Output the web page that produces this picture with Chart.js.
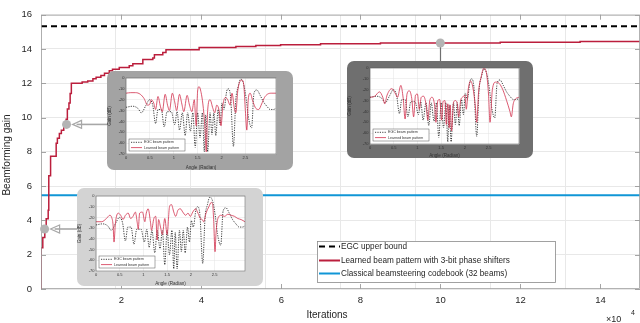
<!DOCTYPE html>
<html>
<head>
<meta charset="utf-8">
<script src="https://cdn.jsdelivr.net/npm/chart.js@4.4.0/dist/chart.umd.min.js"></script>
<style>
html, body { margin: 0; padding: 0; background: #fff; }
#wrap { position: relative; width: 640px; height: 323px; overflow: hidden; }
#main { position: absolute; left: 0; top: 0; }
.inset { position: absolute; border-radius: 7px; }
.inset canvas { position: absolute; left: 0; top: 0; }
</style>
</head>
<body>
<div id="wrap">
  <canvas id="main" width="640" height="323"></canvas>
  <div class="inset" id="box1"><canvas id="ins1" width="186" height="99"></canvas></div>
  <div class="inset" id="box2"><canvas id="ins2" width="186" height="97"></canvas></div>
  <div class="inset" id="box3"><canvas id="ins3" width="186" height="98"></canvas></div>
</div>
<script>
// main curve: iterations where the learned gain steps up, and the gain after each step
var iterations = [0, 50, 450, 950, 1300, 1800, 1950, 2400, 3800, 4100, 4600, 5100, 5700, 6300, 6600, 7000, 7300, 7600,
  10300, 11700, 13000, 13800, 15000, 15900, 17100, 17900, 19600, 22100, 23000, 25500, 28000, 28400, 30500, 31300,
  39600, 48800, 53800, 60000, 70000, 85000, 115000, 135000, 150000];
var learnedGain = [0, 2.4, 3.0, 3.5, 4.1, 4.6, 6.6, 7.75, 8.5, 8.8, 9.07, 9.26, 9.44, 9.9, 10.5, 10.85, 11.4, 12.0,
  12.07, 12.13, 12.26, 12.35, 12.45, 12.58, 12.73, 12.82, 12.92, 13.02, 13.14, 13.39, 13.48, 13.67, 13.8, 13.95,
  14.08, 14.15, 14.2, 14.25, 14.3, 14.35, 14.4, 14.43, 14.45];
var egcBound = 15.33;
var beamsteeringGain = 5.47;
var xRange = [0, 150000];
var xTickLabels = ['2', '4', '6', '8', '10', '12', '14'];
var xTickValues = [20000, 40000, 60000, 80000, 100000, 120000, 140000];

// snapshots shown in the insets (order: inset 1, 2, 3)
var markerIterations = [6400, 100000, 900];
var markerGain = [9.6, 14.35, 3.5];

// beam patterns (angle in radian, gain in dB)
var egcAngle = [0, 0.14, 0.25, 0.32, 0.42, 0.49, 0.56, 0.62, 0.67, 0.74, 0.8, 0.86, 0.95, 1.02, 1.07, 1.12, 1.18, 1.24,
  1.29, 1.35, 1.4, 1.45, 1.5, 1.55, 1.6, 1.64, 1.67, 1.71, 1.76, 1.8, 1.84, 1.88, 1.93, 1.97, 2.01, 2.05, 2.11, 2.14,
  2.19, 2.25, 2.3, 2.35, 2.4, 2.46, 2.52, 2.56, 2.63, 2.68, 2.74, 2.81, 2.88, 2.95, 3.02, 3.09, 3.14];
var egcGain = [-27, -26, -28, -32, -25, -20, -25, -42, -29, -29, -45, -31, -31, -43, -31, -48, -32, -53,
  -32, -49, -32, -64, -32, -55, -32, -68, -34, -68, -32, -52, -32, -53, -29, -43, -23, -29, -12, -10,
  -17, -63, -20, -8, -1, -5, -20, -35, -46, -14, -11, -16, -22, -26, -29, -29, -28];

var learnedAngle1 = [0, 0.1, 0.2, 0.3, 0.38, 0.45, 0.5, 0.53, 0.58, 0.62, 0.67, 0.72, 0.76, 0.82, 0.87, 0.91, 0.97, 1.02,
  1.06, 1.12, 1.17, 1.21, 1.28, 1.33, 1.38, 1.43, 1.47, 1.5, 1.53, 1.58, 1.62, 1.66, 1.68, 1.71, 1.76, 1.82, 1.86, 1.9,
  1.95, 1.99, 2.03, 2.08, 2.13, 2.18, 2.22, 2.27, 2.3, 2.34, 2.39, 2.43, 2.47, 2.5, 2.53, 2.56, 2.6, 2.66, 2.72, 2.78,
  2.84, 2.9, 2.96, 3.04, 3.14];
var learnedGain1 = [-14, -13.5, -13.5, -15, -19, -25, -24, -20, -23, -29, -17, -26, -31, -15, -25, -30, -14, -22,
  -30, -15, -24, -31, -16, -25, -31, -20, -44, -12, -8, -15, -28, -50, -68, -30, -20, -28, -32, -25,
  -30, -44, -25, -18, -20, -25, -14, -28, -32, -12, -3, -2, -8, -30, -48, -20, -14, -22, -28, -29,
  -24, -18, -15, -14, -14];

var learnedAngle2 = [0, 0.1, 0.2, 0.27, 0.31, 0.36, 0.46, 0.54, 0.58, 0.65, 0.7, 0.74, 0.78, 0.83, 0.88, 0.92, 0.96, 1.0,
  1.04, 1.08, 1.13, 1.18, 1.22, 1.26, 1.31, 1.36, 1.39, 1.43, 1.47, 1.51, 1.54, 1.58, 1.61, 1.64, 1.67, 1.69, 1.72,
  1.76, 1.8, 1.84, 1.87, 1.91, 1.95, 2.0, 2.03, 2.07, 2.12, 2.17, 2.22, 2.25, 2.29, 2.35, 2.4, 2.46, 2.5, 2.53, 2.58,
  2.65, 2.72, 2.8, 2.88, 2.95, 2.98, 3.02, 3.08, 3.14];
var learnedGain2 = [-27, -26, -22, -27, -33, -25, -19, -24, -27, -16, -28, -47, -24, -21, -28, -45, -25, -24,
  -38, -27, -26, -33, -48, -30, -27, -34, -50, -30, -29, -48, -31, -30, -52, -33, -55, -34, -58,
  -32, -30, -33, -45, -30, -27, -25, -38, -20, -12, -18, -35, -50, -22, -7, 0, -6, -25, -50, -20,
  -13, -14, -20, -30, -40, -45, -33, -28, -27];

var learnedAngle3 = [0, 0.12, 0.22, 0.29, 0.33, 0.36, 0.38, 0.41, 0.47, 0.52, 0.57, 0.62, 0.68, 0.73, 0.78, 0.83, 0.87,
  0.89, 0.92, 0.98, 1.03, 1.06, 1.1, 1.15, 1.17, 1.22, 1.26, 1.29, 1.32, 1.36, 1.4, 1.45, 1.5, 1.55, 1.59, 1.64, 1.68,
  1.73, 1.78, 1.83, 1.89, 1.94, 1.99, 2.04, 2.1, 2.15, 2.2, 2.24, 2.27, 2.32, 2.38, 2.43, 2.46, 2.48, 2.51, 2.53, 2.57,
  2.64, 2.71, 2.78, 2.85, 2.92, 2.99, 3.06, 3.14];
var learnedGain3 = [-24, -24, -21, -18, -20, -27, -43, -25, -16, -18, -22, -18, -16, -21, -19, -15, -25,
  -31, -16, -15, -24, -16, -12, -25, -32, -21, -19, -41, -22, -29, -36, -21, -36, -10, -8, -15, -19,
  -13, -12, -15, -18, -16, -19, -15, -12, -16, -21, -22, -24, -16, -10, -6, -8, -22, -52, -35, -21,
  -18, -19, -17, -18, -19, -21, -22, -24];

var FONT = 'Liberation Sans, Arial, Helvetica, sans-serif';
var RED = '#bb1e3c';
var BLUE = '#1096d6';

// where the three inset boxes sit on the page
var insetBoxes = [
  { id: 'box1', canvas: 'ins1', left: 107, top: 71, width: 186, height: 99, bg: '#a3a3a3', pad: { l: 19, t: 7, r: 17, b: 16 } },
  { id: 'box2', canvas: 'ins2', left: 347, top: 61, width: 186, height: 97, bg: '#6f6f6f', pad: { l: 23, t: 7, r: 14, b: 14 } },
  { id: 'box3', canvas: 'ins3', left: 77, top: 188, width: 186, height: 98, bg: '#d3d3d3', pad: { l: 19, t: 8, r: 18, b: 15 } }
];

function pts(xs, ys) {
  return xs.map(function (x, i) { return { x: x, y: ys[i] }; });
}

var mainDecor = {
  id: 'mainDecor',
  afterDraw: function (chart) {
    var ctx = chart.ctx, a = chart.chartArea, sx = chart.scales.x, sy = chart.scales.y;
    ctx.save();
    // inward tick marks, x tick labels and frame
    ctx.strokeStyle = '#8e8e8e';
    ctx.lineWidth = 0.8;
    ctx.fillStyle = '#262626';
    ctx.font = '9.5px ' + FONT;
    ctx.textAlign = 'center';
    ctx.textBaseline = 'middle';
    ctx.beginPath();
    xTickValues.forEach(function (v, i) {
      var p = Math.round(sx.getPixelForValue(v)) + 0.5;
      ctx.moveTo(p, a.bottom); ctx.lineTo(p, a.bottom - 5);
      ctx.moveTo(p, a.top); ctx.lineTo(p, a.top + 5);
      ctx.fillText(xTickLabels[i], p, a.bottom + 11);
    });
    sy.ticks.forEach(function (t) {
      var p = Math.round(sy.getPixelForValue(t.value)) + 0.5;
      ctx.moveTo(a.left, p); ctx.lineTo(a.left + 5, p);
      ctx.moveTo(a.right, p); ctx.lineTo(a.right - 5, p);
    });
    ctx.stroke();
    ctx.strokeStyle = '#a0a0a0';
    ctx.strokeRect(a.left + 0.5, a.top + 0.5, a.right - a.left - 1, a.bottom - a.top - 1);

    // connectors from snapshot markers to the insets
    var m = markerIterations.map(function (v, i) {
      return { x: sx.getPixelForValue(v), y: sy.getPixelForValue(markerGain[i]) };
    });
    ctx.strokeStyle = '#a7a7a7';
    [0, 2].forEach(function (i) {
      var b = insetBoxes[i], y = m[i].y, x0 = m[i].x + 6;
      ctx.lineWidth = 1.6;
      ctx.beginPath();
      ctx.moveTo(b.left, y); ctx.lineTo(x0 + 4, y);
      ctx.stroke();
      ctx.lineWidth = 1.2;
      ctx.beginPath();
      ctx.moveTo(x0 + 9, y - 4); ctx.lineTo(x0, y); ctx.lineTo(x0 + 9, y + 4);
      ctx.closePath();
      ctx.stroke();
    });
    ctx.strokeStyle = '#6f6f6f';
    ctx.lineWidth = 1.2;
    ctx.beginPath();
    ctx.moveTo(Math.round(m[1].x) + 0.5, m[1].y);
    ctx.lineTo(Math.round(m[1].x) + 0.5, insetBoxes[1].top);
    ctx.stroke();
    // marker circles on top
    ctx.fillStyle = '#b4b4b4';
    m.forEach(function (p) {
      ctx.beginPath(); ctx.arc(p.x, p.y, 4.5, 0, Math.PI * 2); ctx.fill();
    });

    // legend
    var lx = 317, ly = 241, lw = 238, lh = 41;
    ctx.fillStyle = '#fff';
    ctx.fillRect(lx, ly, lw, lh);
    ctx.strokeStyle = '#8a8a8a';
    ctx.lineWidth = 0.8;
    ctx.strokeRect(lx + 0.5, ly + 0.5, lw, lh);
    var rows = [246.5, 260.5, 273.5];
    chart.data.datasets.slice(0, 3).forEach(function (ds, i) {
      ctx.strokeStyle = ds.borderColor;
      ctx.lineWidth = 2;
      ctx.setLineDash(ds.borderDash || []);
      ctx.beginPath(); ctx.moveTo(319, rows[i]); ctx.lineTo(340, rows[i]); ctx.stroke();
      ctx.setLineDash([]);
      ctx.fillStyle = '#262626';
      ctx.font = '8.2px ' + FONT;
      ctx.textBaseline = 'middle';
      ctx.textAlign = 'left';
      ctx.fillText(ds.label, 341, rows[i]);
    });

    // axis titles
    ctx.fillStyle = '#262626';
    ctx.font = '10px ' + FONT;
    ctx.textAlign = 'center';
    ctx.textBaseline = 'middle';
    ctx.fillText('Iterations', 327, 315);
    ctx.save();
    ctx.translate(7, 155);
    ctx.rotate(-Math.PI / 2);
    ctx.fillText('Beamforming gain', 0, 0);
    ctx.restore();
    ctx.textAlign = 'left';
    ctx.textBaseline = 'alphabetic';
    ctx.font = '9px ' + FONT;
    ctx.fillText('\u00d710', 606, 322);
    ctx.font = '7px ' + FONT;
    ctx.fillText('4', 631, 315);
    ctx.restore();
  }
};

new Chart(document.getElementById('main'), {
  type: 'line',
  data: {
    datasets: [
      { label: 'EGC upper bound', data: pts(xRange, [egcBound, egcBound]), borderColor: '#000', borderWidth: 2,
        borderDash: [6, 4], pointRadius: 0 },
      { label: 'Learned beam pattern with 3-bit phase shifters', data: pts(iterations, learnedGain), borderColor: RED,
        borderWidth: 1.5, stepped: 'before', pointRadius: 0 },
      { label: 'Classical beamsteering codebook (32 beams)', data: pts(xRange, [beamsteeringGain, beamsteeringGain]),
        borderColor: BLUE, borderWidth: 2, pointRadius: 0 }
    ]
  },
  options: {
    responsive: false,
    animation: false,
    events: [],
    layout: { padding: { top: 5, right: 0, left: 0, bottom: 0 } },
    plugins: { legend: { display: false }, tooltip: { enabled: false } },
    scales: {
      x: {
        type: 'linear', min: xRange[0], max: xRange[1],
        ticks: { stepSize: 20000, display: false },
        grid: { color: '#e8e8e8', drawTicks: false },
        border: { display: false },
        afterFit: function (s) { s.height = 34; }
      },
      y: {
        min: 0, max: 16,
        ticks: { stepSize: 2, padding: 9, color: '#262626', font: { size: 9.5, family: FONT } },
        grid: { color: '#e8e8e8', drawTicks: false },
        border: { display: false },
        afterFit: function (s) { s.width = 41; }
      }
    }
  },
  plugins: [mainDecor]
});

var insetDecor = {
  id: 'insetDecor',
  beforeDraw: function (chart) {
    var a = chart.chartArea, ctx = chart.ctx;
    ctx.save();
    ctx.fillStyle = '#fff';
    ctx.fillRect(a.left, a.top, a.right - a.left, a.bottom - a.top);
    ctx.restore();
  },
  afterDraw: function (chart) {
    var a = chart.chartArea, ctx = chart.ctx;
    ctx.save();
    ctx.strokeStyle = '#555';
    ctx.lineWidth = 0.5;
    ctx.strokeRect(a.left, a.top, a.right - a.left, a.bottom - a.top);
    var bx = a.left + 3, by = a.bottom - 15, bw = 56, bh = 12;
    ctx.fillStyle = '#fff';
    ctx.fillRect(bx, by, bw, bh);
    ctx.strokeRect(bx, by, bw, bh);
    var rows = [by + 3.3, by + 8.6];
    chart.data.datasets.forEach(function (ds, i) {
      ctx.strokeStyle = ds.borderColor;
      ctx.lineWidth = 0.8;
      ctx.setLineDash(ds.borderDash || []);
      ctx.beginPath(); ctx.moveTo(bx + 2, rows[i]); ctx.lineTo(bx + 13, rows[i]); ctx.stroke();
      ctx.setLineDash([]);
      ctx.fillStyle = '#333';
      ctx.font = '3.6px ' + FONT;
      ctx.textBaseline = 'middle';
      ctx.fillText(ds.label, bx + 15, rows[i]);
    });
    ctx.restore();
  }
};

function makeInset(box, angles, gains) {
  var el = document.getElementById(box.id);
  el.style.left = box.left + 'px';
  el.style.top = box.top + 'px';
  el.style.width = box.width + 'px';
  el.style.height = box.height + 'px';
  el.style.background = box.bg;
  var small = { size: 4, family: FONT };
  new Chart(document.getElementById(box.canvas), {
    type: 'line',
    data: {
      datasets: [
        { label: 'EGC beam pattern', data: pts(egcAngle, egcGain), borderColor: '#111', borderWidth: 0.8,
          borderDash: [1.2, 1.2], pointRadius: 0, cubicInterpolationMode: 'monotone', order: 1 },
        { label: 'Learned beam pattern', data: pts(angles, gains), borderColor: '#d2304c', borderWidth: 0.8,
          pointRadius: 0, cubicInterpolationMode: 'monotone', order: 0 }
      ]
    },
    options: {
      responsive: false,
      animation: false,
      events: [],
      layout: { padding: { top: box.pad.t, right: box.pad.r, left: 0, bottom: 0 } },
      plugins: { legend: { display: false }, tooltip: { enabled: false } },
      scales: {
        x: {
          type: 'linear', min: 0, max: Math.PI,
          ticks: { stepSize: 0.5, padding: 1.5, color: '#333', font: small, maxRotation: 0, autoSkip: false,
            callback: function (v) { return Math.abs(v * 2 - Math.round(v * 2)) < 1e-6 ? String(v) : ''; } },
          grid: { color: '#e3e3e3', drawTicks: false, lineWidth: 0.5 },
          border: { display: false },
          title: { display: true, text: 'Angle (Radian)', color: '#333', font: { size: 4.6, family: FONT }, padding: { top: 1, bottom: 0 } },
          afterFit: function (s) { s.height = box.pad.b; }
        },
        y: {
          min: -70, max: 0,
          ticks: { stepSize: 10, padding: 1.5, color: '#333', font: small, autoSkip: false },
          grid: { color: '#e3e3e3', drawTicks: false, lineWidth: 0.5 },
          border: { display: false },
          title: { display: true, text: 'Gain (dB)', color: '#333', font: { size: 4.6, family: FONT }, padding: { top: 0, bottom: 1 } },
          afterFit: function (s) { s.width = box.pad.l; }
        }
      }
    },
    plugins: [insetDecor]
  });
}

makeInset(insetBoxes[0], learnedAngle1, learnedGain1);
makeInset(insetBoxes[1], learnedAngle2, learnedGain2);
makeInset(insetBoxes[2], learnedAngle3, learnedGain3);
</script>
</body>
</html>
